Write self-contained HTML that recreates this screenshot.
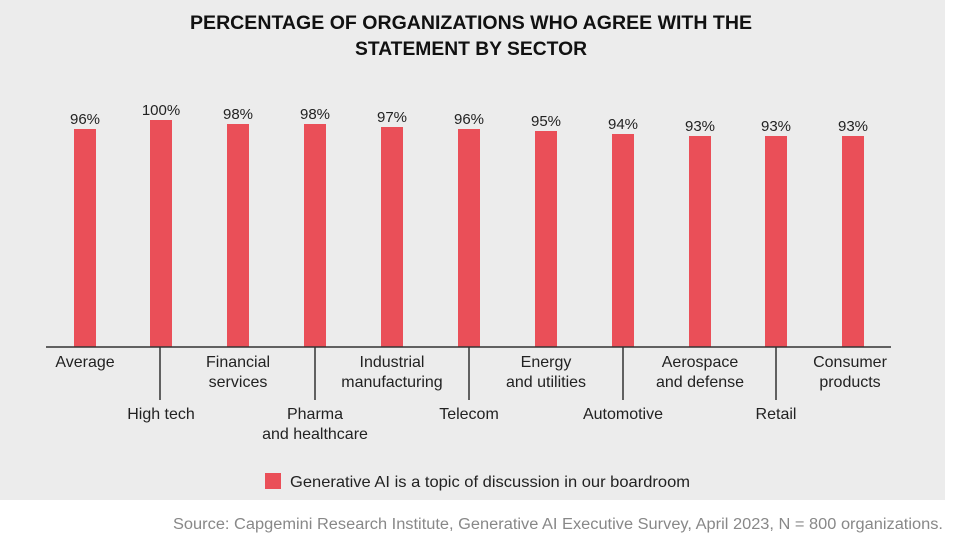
<!DOCTYPE html>
<html><head><meta charset="utf-8"><style>
body{margin:0;width:959px;height:541px;background:#fff;font-family:"Liberation Sans",sans-serif;overflow:hidden;position:relative}
#bg{position:absolute;left:0;top:0;width:945px;height:500px;background:#ececec}
</style></head><body>
<div id="bg"></div>
<svg width="959" height="541" style="position:absolute;left:0;top:0" font-family="Liberation Sans, sans-serif">
<text x="471" y="29" text-anchor="middle" font-size="19.5" font-weight="bold" fill="#111" textLength="562" lengthAdjust="spacingAndGlyphs">PERCENTAGE OF ORGANIZATIONS WHO AGREE WITH THE</text>
<text x="471" y="55" text-anchor="middle" font-size="19.5" font-weight="bold" fill="#111" textLength="232" lengthAdjust="spacingAndGlyphs">STATEMENT BY SECTOR</text>
<g fill="#ea4f58">
<rect x="74" y="129" width="22" height="218"/>
<rect x="150" y="120" width="22" height="227"/>
<rect x="227" y="124" width="22" height="223"/>
<rect x="304" y="124" width="22" height="223"/>
<rect x="381" y="127" width="22" height="220"/>
<rect x="458" y="129" width="22" height="218"/>
<rect x="535" y="131" width="22" height="216"/>
<rect x="612" y="134" width="22" height="213"/>
<rect x="689" y="136" width="22" height="211"/>
<rect x="765" y="136" width="22" height="211"/>
<rect x="842" y="136" width="22" height="211"/>
<rect x="265" y="473" width="16" height="16"/>
</g>
<g font-size="15" fill="#222" text-anchor="middle">
<text x="85" y="124">96%</text><text x="161" y="115">100%</text><text x="238" y="119">98%</text>
<text x="315" y="119">98%</text><text x="392" y="122">97%</text><text x="469" y="124">96%</text>
<text x="546" y="126">95%</text><text x="623" y="129">94%</text><text x="700" y="131">93%</text>
<text x="776" y="131">93%</text><text x="853" y="131">93%</text>
</g>
<g stroke="#333" stroke-width="1.5">
<line x1="46" y1="347" x2="891" y2="347"/>
<line x1="160" y1="347" x2="160" y2="400"/><line x1="315" y1="347" x2="315" y2="400"/>
<line x1="469" y1="347" x2="469" y2="400"/><line x1="623" y1="347" x2="623" y2="400"/>
<line x1="776" y1="347" x2="776" y2="400"/>
</g>
<g font-size="16" fill="#222" text-anchor="middle">
<text x="85" y="367">Average</text>
<text x="238" y="367">Financial</text><text x="238" y="387">services</text>
<text x="392" y="367">Industrial</text><text x="392" y="387">manufacturing</text>
<text x="546" y="367">Energy</text><text x="546" y="387">and utilities</text>
<text x="700" y="367">Aerospace</text><text x="700" y="387">and defense</text>
<text x="850" y="367">Consumer</text><text x="850" y="387">products</text>
<text x="161" y="419">High tech</text>
<text x="315" y="419">Pharma</text><text x="315" y="439">and healthcare</text>
<text x="469" y="419">Telecom</text>
<text x="623" y="419">Automotive</text>
<text x="776" y="419">Retail</text>
</g>
<text x="290" y="487" font-size="16" fill="#222" textLength="400" lengthAdjust="spacingAndGlyphs">Generative AI is a topic of discussion in our boardroom</text>
<text x="943" y="529" font-size="15.5" fill="#888" text-anchor="end" textLength="770" lengthAdjust="spacingAndGlyphs">Source: Capgemini Research Institute, Generative AI Executive Survey, April 2023, N = 800 organizations.</text>
</svg>
</body></html>
